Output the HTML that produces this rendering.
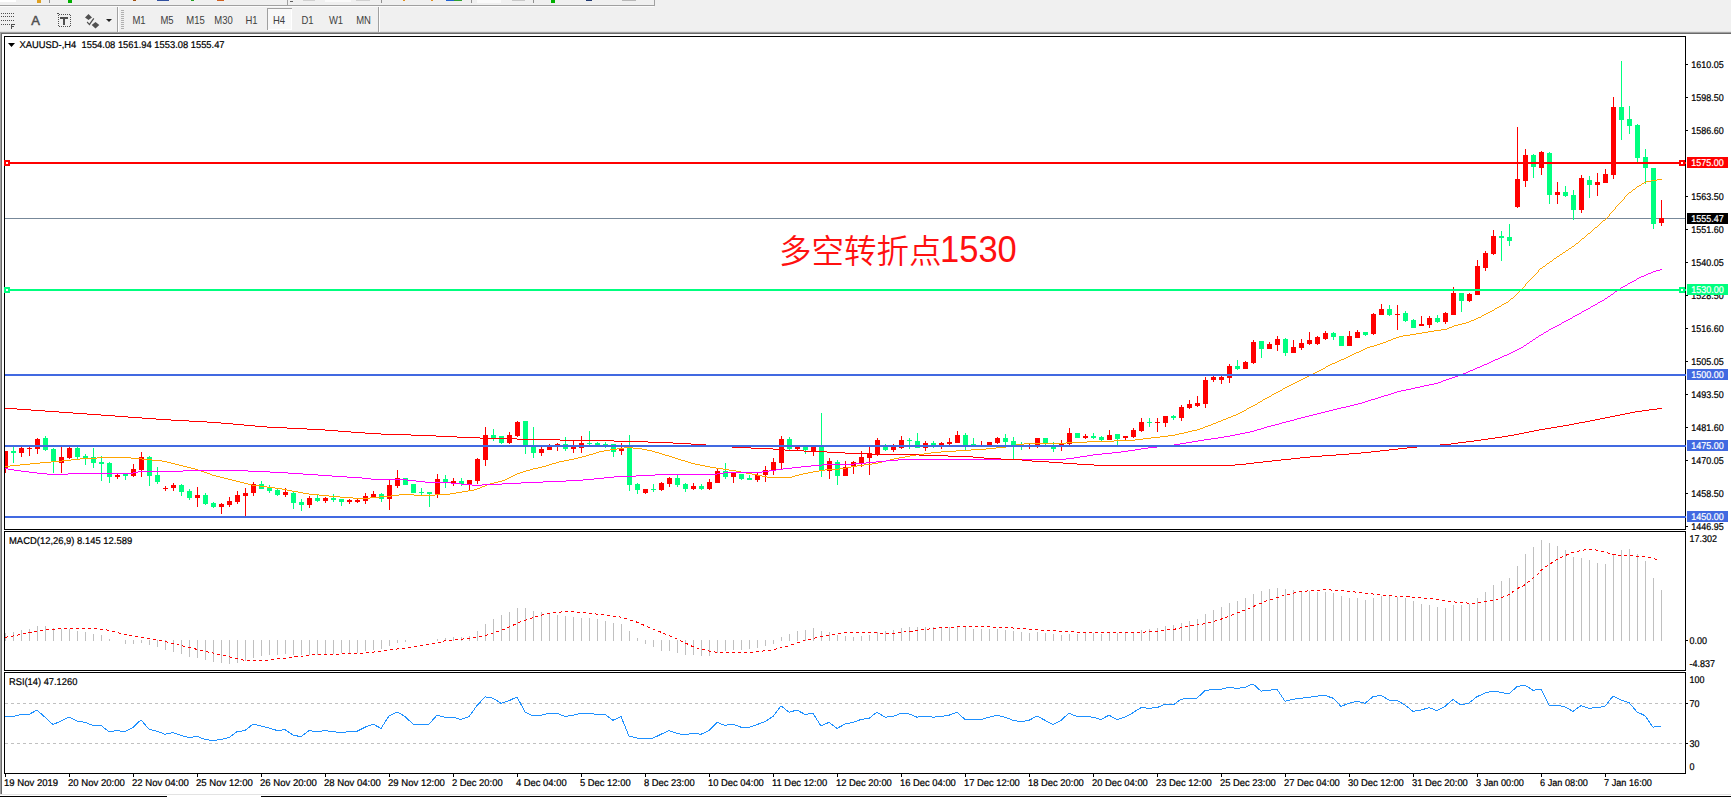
<!DOCTYPE html>
<html lang="zh"><head><meta charset="utf-8"><title>XAUUSD-,H4</title>
<style>
html,body{margin:0;padding:0;background:#fff}
body{width:1731px;height:797px;overflow:hidden;position:relative;font-family:"Liberation Sans","Noto Sans CJK SC",sans-serif}
svg{position:absolute;left:0;top:0;display:block}
#lb{position:absolute;left:0;top:32px;width:1px;height:762px;background:#a0a0a0}
#lb2{position:absolute;left:1px;top:33px;width:1px;height:761px;background:#696969}
#bl{position:absolute;left:0;top:794px;width:1731px;height:1px;background:#e3e3e3}
#bk1{position:absolute;left:0;top:796px;width:167px;height:1px;background:#000}
#bk2{position:absolute;left:261px;top:796px;width:1470px;height:1px;background:#000}
</style></head><body>
<svg id="chart" width="1731" height="797" viewBox="0 0 1731 797" shape-rendering="crispEdges"><defs><clipPath id="cpm"><rect x="5" y="37" width="1680" height="492"/></clipPath></defs><g clip-path="url(#cpm)"><rect x="5" y="218" width="1680" height="1" fill="#778899"/><path fill="#ff0000" d="M5 451h1v22h-1zM3 451h5v17h-5zM21 447h1v10h-1zM19 448h5v5h-5zM29 447h1v9h-1zM27 448h5v1h-5zM37 438h1v16h-1zM35 439h5v10h-5zM61 447h1v26h-1zM59 457h5v6h-5zM69 447h1v12h-1zM67 448h5v10h-5zM117 474h1v5h-1zM115 475h5v2h-5zM133 464h1v13h-1zM131 469h5v7h-5zM141 452h1v25h-1zM139 457h5v13h-5zM165 486h1v5h-1zM163 488h5v1h-5zM173 483h1v8h-1zM171 485h5v3h-5zM197 487h1v20h-1zM195 495h5v3h-5zM221 503h1v11h-1zM219 504h5v3h-5zM229 497h1v10h-1zM227 501h5v4h-5zM237 491h1v13h-1zM235 495h5v7h-5zM245 488h1v28h-1zM243 493h5v3h-5zM253 482h1v14h-1zM251 484h5v9h-5zM285 488h1v9h-1zM283 492h5v3h-5zM309 496h1v12h-1zM307 498h5v7h-5zM325 497h1v6h-1zM323 498h5v3h-5zM349 499h1v5h-1zM347 500h5v2h-5zM357 499h1v4h-1zM355 500h5v2h-5zM365 493h1v11h-1zM363 496h5v5h-5zM373 491h1v6h-1zM371 494h5v3h-5zM389 480h1v30h-1zM387 485h5v14h-5zM397 470h1v18h-1zM395 478h5v8h-5zM437 474h1v24h-1zM435 479h5v15h-5zM453 478h1v8h-1zM451 481h5v3h-5zM469 480h1v10h-1zM467 480h5v4h-5zM477 458h1v26h-1zM475 459h5v22h-5zM485 427h1v39h-1zM483 435h5v25h-5zM509 432h1v12h-1zM507 435h5v8h-5zM517 421h1v16h-1zM515 422h5v14h-5zM541 447h1v9h-1zM539 449h5v4h-5zM549 444h1v6h-1zM547 447h5v3h-5zM557 443h1v8h-1zM555 444h5v1h-5zM573 441h1v12h-1zM571 445h5v4h-5zM581 436h1v17h-1zM579 443h5v5h-5zM621 443h1v12h-1zM619 448h5v3h-5zM645 489h1v5h-1zM643 489h5v4h-5zM661 482h1v9h-1zM659 483h5v7h-5zM669 477h1v10h-1zM667 478h5v6h-5zM693 483h1v7h-1zM691 486h5v3h-5zM709 479h1v11h-1zM707 482h5v7h-5zM717 469h1v14h-1zM715 471h5v12h-5zM733 472h1v11h-1zM731 473h5v4h-5zM757 473h1v9h-1zM755 475h5v5h-5zM765 466h1v16h-1zM763 470h5v5h-5zM773 458h1v17h-1zM771 462h5v9h-5zM781 436h1v33h-1zM779 439h5v24h-5zM797 445h1v5h-1zM795 445h5v4h-5zM813 445h1v11h-1zM811 445h5v6h-5zM829 458h1v21h-1zM827 461h5v10h-5zM845 461h1v15h-1zM843 467h5v9h-5zM853 461h1v13h-1zM851 462h5v5h-5zM861 451h1v16h-1zM859 457h5v7h-5zM869 447h1v28h-1zM867 453h5v5h-5zM877 438h1v18h-1zM875 440h5v15h-5zM893 444h1v8h-1zM891 447h5v3h-5zM901 436h1v13h-1zM899 440h5v8h-5zM925 441h1v10h-1zM923 443h5v5h-5zM941 442h1v7h-1zM939 443h5v3h-5zM949 438h1v7h-1zM947 442h5v2h-5zM957 431h1v12h-1zM955 435h5v8h-5zM981 441h1v5h-1zM979 445h5v1h-5zM989 442h1v3h-1zM987 442h5v3h-5zM997 437h1v7h-1zM995 438h5v5h-5zM1029 443h1v6h-1zM1027 445h5v1h-5zM1037 438h1v10h-1zM1035 438h5v7h-5zM1061 440h1v11h-1zM1059 444h5v3h-5zM1069 428h1v17h-1zM1067 433h5v11h-5zM1085 434h1v5h-1zM1083 436h5v2h-5zM1109 430h1v10h-1zM1107 435h5v5h-5zM1125 436h1v4h-1zM1123 436h5v2h-5zM1133 428h1v10h-1zM1131 430h5v7h-5zM1141 418h1v14h-1zM1139 422h5v9h-5zM1157 418h1v14h-1zM1155 422h5v1h-5zM1165 416h1v11h-1zM1163 416h5v7h-5zM1181 405h1v16h-1zM1179 407h5v11h-5zM1189 400h1v9h-1zM1187 404h5v4h-5zM1197 396h1v11h-1zM1195 403h5v3h-5zM1205 377h1v31h-1zM1203 380h5v24h-5zM1213 376h1v6h-1zM1211 377h5v3h-5zM1221 376h1v8h-1zM1219 377h5v3h-5zM1229 364h1v19h-1zM1227 366h5v12h-5zM1245 361h1v8h-1zM1243 362h5v7h-5zM1253 340h1v24h-1zM1251 342h5v21h-5zM1269 342h1v7h-1zM1267 344h5v5h-5zM1277 336h1v15h-1zM1275 339h5v6h-5zM1293 340h1v13h-1zM1291 347h5v6h-5zM1301 339h1v11h-1zM1299 343h5v5h-5zM1309 332h1v13h-1zM1307 340h5v4h-5zM1317 336h1v9h-1zM1315 337h5v7h-5zM1325 331h1v9h-1zM1323 333h5v6h-5zM1349 331h1v15h-1zM1347 336h5v10h-5zM1357 330h1v8h-1zM1355 332h5v6h-5zM1373 313h1v22h-1zM1371 314h5v20h-5zM1381 304h1v11h-1zM1379 309h5v6h-5zM1397 305h1v25h-1zM1395 314h5v1h-5zM1421 316h1v10h-1zM1419 324h5v2h-5zM1429 316h1v12h-1zM1427 318h5v7h-5zM1445 312h1v12h-1zM1443 313h5v9h-5zM1453 287h1v28h-1zM1451 293h5v22h-5zM1469 293h1v9h-1zM1467 294h5v7h-5zM1477 260h1v35h-1zM1475 266h5v29h-5zM1485 251h1v20h-1zM1483 253h5v15h-5zM1493 230h1v25h-1zM1491 236h5v18h-5zM1517 127h1v81h-1zM1515 179h5v28h-5zM1525 149h1v38h-1zM1523 155h5v26h-5zM1541 151h1v24h-1zM1539 152h5v16h-5zM1557 182h1v22h-1zM1555 192h5v3h-5zM1581 175h1v38h-1zM1579 178h5v32h-5zM1597 173h1v23h-1zM1595 182h5v3h-5zM1605 169h1v14h-1zM1603 174h5v9h-5zM1613 97h1v82h-1zM1611 107h5v68h-5zM1661 200h1v26h-1zM1659 218h5v5h-5z"/><path fill="#00ff7f" d="M13 447h1v16h-1zM11 451h5v2h-5zM45 436h1v15h-1zM43 438h5v12h-5zM53 448h1v25h-1zM51 449h5v13h-5zM77 447h1v12h-1zM75 448h5v9h-5zM85 454h1v11h-1zM83 456h5v2h-5zM93 448h1v20h-1zM91 457h5v6h-5zM101 456h1v25h-1zM99 462h5v2h-5zM109 462h1v21h-1zM107 463h5v14h-5zM125 473h1v7h-1zM123 474h5v2h-5zM149 456h1v30h-1zM147 457h5v19h-5zM157 467h1v17h-1zM155 475h5v7h-5zM181 484h1v12h-1zM179 485h5v7h-5zM189 489h1v11h-1zM187 491h5v7h-5zM205 493h1v12h-1zM203 495h5v9h-5zM213 502h1v6h-1zM211 503h5v4h-5zM261 481h1v8h-1zM259 484h5v5h-5zM269 485h1v8h-1zM267 487h5v4h-5zM277 489h1v7h-1zM275 490h5v5h-5zM293 492h1v17h-1zM291 493h5v10h-5zM301 499h1v12h-1zM299 502h5v3h-5zM317 494h1v8h-1zM315 498h5v3h-5zM333 494h1v8h-1zM331 498h5v2h-5zM341 499h1v7h-1zM339 499h5v3h-5zM381 493h1v9h-1zM379 494h5v5h-5zM405 478h1v7h-1zM403 478h5v7h-5zM413 484h1v9h-1zM411 484h5v9h-5zM421 488h1v7h-1zM419 492h5v1h-5zM429 492h1v15h-1zM427 492h5v2h-5zM445 475h1v13h-1zM443 479h5v3h-5zM461 478h1v8h-1zM459 481h5v3h-5zM493 429h1v12h-1zM491 435h5v3h-5zM501 436h1v8h-1zM499 436h5v7h-5zM525 421h1v33h-1zM523 421h5v25h-5zM533 427h1v31h-1zM531 447h5v6h-5zM565 437h1v14h-1zM563 444h5v5h-5zM589 431h1v14h-1zM587 443h5v1h-5zM597 442h1v4h-1zM595 443h5v2h-5zM605 442h1v6h-1zM603 444h5v1h-5zM613 444h1v13h-1zM611 444h5v8h-5zM629 435h1v56h-1zM627 448h5v37h-5zM637 483h1v11h-1zM635 484h5v6h-5zM653 484h1v8h-1zM651 489h5v1h-5zM677 475h1v12h-1zM675 478h5v7h-5zM685 483h1v9h-1zM683 484h5v5h-5zM701 484h1v6h-1zM699 486h5v3h-5zM725 463h1v16h-1zM723 471h5v6h-5zM741 474h1v6h-1zM739 474h5v5h-5zM749 475h1v5h-1zM747 478h5v2h-5zM789 437h1v13h-1zM787 439h5v10h-5zM805 445h1v9h-1zM803 445h5v5h-5zM821 413h1v64h-1zM819 447h5v23h-5zM837 460h1v25h-1zM835 462h5v14h-5zM885 444h1v7h-1zM883 447h5v3h-5zM909 438h1v11h-1zM907 440h5v1h-5zM917 433h1v15h-1zM915 441h5v7h-5zM933 441h1v7h-1zM931 443h5v3h-5zM965 433h1v17h-1zM963 435h5v10h-5zM973 438h1v7h-1zM971 444h5v1h-5zM1005 434h1v14h-1zM1003 438h5v4h-5zM1013 437h1v22h-1zM1011 441h5v4h-5zM1021 442h1v8h-1zM1019 445h5v1h-5zM1045 438h1v7h-1zM1043 438h5v5h-5zM1053 442h1v10h-1zM1051 445h5v4h-5zM1077 433h1v5h-1zM1075 433h5v5h-5zM1093 433h1v6h-1zM1091 436h5v2h-5zM1101 436h1v5h-1zM1099 437h5v3h-5zM1117 434h1v11h-1zM1115 434h5v5h-5zM1149 418h1v9h-1zM1147 422h5v1h-5zM1173 415h1v5h-1zM1171 416h5v2h-5zM1237 360h1v10h-1zM1235 366h5v3h-5zM1261 341h1v17h-1zM1259 341h5v8h-5zM1285 338h1v18h-1zM1283 339h5v14h-5zM1333 332h1v8h-1zM1331 333h5v4h-5zM1341 336h1v10h-1zM1339 336h5v10h-5zM1365 332h1v4h-1zM1363 332h5v3h-5zM1389 305h1v11h-1zM1387 309h5v6h-5zM1405 311h1v11h-1zM1403 313h5v8h-5zM1413 319h1v9h-1zM1411 320h5v8h-5zM1437 315h1v8h-1zM1435 318h5v4h-5zM1461 293h1v19h-1zM1459 293h5v8h-5zM1501 231h1v30h-1zM1499 236h5v2h-5zM1509 224h1v22h-1zM1507 237h5v4h-5zM1533 154h1v24h-1zM1531 155h5v12h-5zM1549 152h1v52h-1zM1547 153h5v42h-5zM1565 186h1v11h-1zM1563 192h5v4h-5zM1573 190h1v30h-1zM1571 195h5v15h-5zM1589 176h1v22h-1zM1587 180h5v5h-5zM1621 61h1v79h-1zM1619 107h5v13h-5zM1629 106h1v28h-1zM1627 119h5v7h-5zM1637 124h1v38h-1zM1635 125h5v33h-5zM1645 149h1v35h-1zM1643 157h5v11h-5zM1653 168h1v61h-1zM1651 168h5v56h-5z"/><path fill="#ffa500" d="M5 466h5v1h-5zM10 465h10v1h-10zM20 464h10v1h-10zM30 463h10v1h-10zM40 462h11v1h-11zM51 461h11v1h-11zM62 460h9v1h-9zM71 459h9v1h-9zM80 458h17v1h-17zM97 457h34v1h-34zM131 458h11v1h-11zM142 459h10v1h-10zM152 460h10v1h-10zM162 461h5v1h-5zM167 462h4v1h-4zM171 463h4v1h-4zM175 464h4v1h-4zM179 465h4v1h-4zM183 466h4v1h-4zM187 467h4v1h-4zM191 468h4v1h-4zM195 469h3v1h-3zM198 470h3v1h-3zM201 471h3v1h-3zM204 472h3v1h-3zM207 473h3v1h-3zM210 474h2v1h-2zM212 475h4v1h-4zM216 476h4v1h-4zM220 477h4v1h-4zM224 478h4v1h-4zM228 479h4v1h-4zM232 480h4v1h-4zM236 481h4v1h-4zM240 482h4v1h-4zM244 483h4v1h-4zM248 484h4v1h-4zM252 485h8v1h-8zM260 486h7v1h-7zM267 487h8v1h-8zM275 488h7v1h-7zM282 489h5v1h-5zM287 490h5v1h-5zM292 491h6v1h-6zM298 492h5v1h-5zM303 493h6v1h-6zM309 494h10v1h-10zM319 495h10v1h-10zM329 496h11v1h-11zM340 497h13v1h-13zM353 498h17v1h-17zM370 497h10v1h-10zM380 496h11v1h-11zM391 495h8v1h-8zM399 494h15v1h-15zM414 495h21v1h-21zM435 494h15v1h-15zM450 493h6v1h-6zM456 492h6v1h-6zM462 491h6v1h-6zM468 490h6v1h-6zM474 489h3v1h-3zM477 488h3v1h-3zM480 487h2v1h-2zM482 486h3v1h-3zM485 485h2v1h-2zM487 484h3v1h-3zM490 483h4v1h-4zM494 482h4v1h-4zM498 481h4v1h-4zM502 480h3v1h-3zM505 479h2v1h-2zM507 478h2v1h-2zM509 477h2v1h-2zM511 476h2v1h-2zM513 475h2v1h-2zM515 474h2v1h-2zM517 473h3v1h-3zM520 472h3v1h-3zM523 471h3v1h-3zM526 470h4v1h-4zM530 469h3v1h-3zM533 468h5v1h-5zM538 467h4v1h-4zM542 466h4v1h-4zM546 465h3v1h-3zM549 464h3v1h-3zM552 463h4v1h-4zM556 462h3v1h-3zM559 461h5v1h-5zM564 460h5v1h-5zM569 459h5v1h-5zM574 458h4v1h-4zM578 457h4v1h-4zM582 456h4v1h-4zM586 455h3v1h-3zM589 454h4v1h-4zM593 453h3v1h-3zM596 452h3v1h-3zM599 451h5v1h-5zM604 450h6v1h-6zM610 449h7v1h-7zM617 448h7v1h-7zM624 447h9v1h-9zM633 448h9v1h-9zM642 449h5v1h-5zM647 450h5v1h-5zM652 451h3v1h-3zM655 452h4v1h-4zM659 453h3v1h-3zM662 454h3v1h-3zM665 455h4v1h-4zM669 456h3v1h-3zM672 457h3v1h-3zM675 458h3v1h-3zM678 459h3v1h-3zM681 460h4v1h-4zM685 461h3v1h-3zM688 462h3v1h-3zM691 463h4v1h-4zM695 464h5v1h-5zM700 465h5v1h-5zM705 466h5v1h-5zM710 467h6v1h-6zM716 468h7v1h-7zM723 469h6v1h-6zM729 470h7v1h-7zM736 471h5v1h-5zM741 472h5v1h-5zM746 473h6v1h-6zM752 474h5v1h-5zM757 475h5v1h-5zM762 476h5v1h-5zM767 477h25v1h-25zM792 476h3v1h-3zM795 475h4v1h-4zM799 474h4v1h-4zM803 473h5v1h-5zM808 472h5v1h-5zM813 471h6v1h-6zM819 470h6v1h-6zM825 469h14v1h-14zM839 468h7v1h-7zM846 467h5v1h-5zM851 466h6v1h-6zM857 465h7v1h-7zM864 464h8v1h-8zM872 463h6v1h-6zM878 462h4v1h-4zM882 461h4v1h-4zM886 460h4v1h-4zM890 459h4v1h-4zM894 458h5v1h-5zM899 457h6v1h-6zM905 456h5v1h-5zM910 455h6v1h-6zM916 454h8v1h-8zM924 453h7v1h-7zM931 452h10v1h-10zM941 451h15v1h-15zM956 450h15v1h-15zM971 449h15v1h-15zM986 448h10v1h-10zM996 447h10v1h-10zM1006 446h5v1h-5zM1011 445h5v1h-5zM1016 444h8v1h-8zM1024 443h42v1h-42zM1066 442h21v1h-21zM1087 441h27v1h-27zM1114 440h21v1h-21zM1135 439h8v1h-8zM1143 438h8v1h-8zM1151 437h9v1h-9zM1160 436h8v1h-8zM1168 435h7v1h-7zM1175 434h4v1h-4zM1179 433h5v1h-5zM1184 432h4v1h-4zM1188 431h4v1h-4zM1192 430h5v1h-5zM1197 429h3v1h-3zM1200 428h3v1h-3zM1203 427h2v1h-2zM1205 426h3v1h-3zM1208 425h3v1h-3zM1211 424h2v1h-2zM1213 423h3v1h-3zM1216 422h2v1h-2zM1218 421h3v1h-3zM1221 420h2v1h-2zM1223 419h3v1h-3zM1226 418h2v1h-2zM1228 417h3v1h-3zM1231 416h2v1h-2zM1233 415h3v1h-3zM1236 414h2v1h-2zM1238 413h2v1h-2zM1240 412h2v1h-2zM1242 411h2v1h-2zM1244 410h2v1h-2zM1246 409h1v1h-1zM1247 408h2v1h-2zM1249 407h2v1h-2zM1251 406h2v1h-2zM1253 405h2v1h-2zM1255 404h2v1h-2zM1257 403h1v1h-1zM1258 402h2v1h-2zM1260 401h2v1h-2zM1262 400h1v1h-1zM1263 399h2v1h-2zM1265 398h2v1h-2zM1267 397h2v1h-2zM1269 396h2v1h-2zM1271 395h1v1h-1zM1272 394h2v1h-2zM1274 393h2v1h-2zM1276 392h2v1h-2zM1278 391h2v1h-2zM1280 390h2v1h-2zM1282 389h1v1h-1zM1283 388h2v1h-2zM1285 387h2v1h-2zM1287 386h2v1h-2zM1289 385h2v1h-2zM1291 384h2v1h-2zM1293 383h2v1h-2zM1295 382h2v1h-2zM1297 381h2v1h-2zM1299 380h2v1h-2zM1301 379h2v1h-2zM1303 378h2v1h-2zM1305 377h2v1h-2zM1307 376h2v1h-2zM1309 375h2v1h-2zM1311 374h2v1h-2zM1313 373h2v1h-2zM1315 372h2v1h-2zM1317 371h2v1h-2zM1319 370h2v1h-2zM1321 369h2v1h-2zM1323 368h2v1h-2zM1325 367h1v1h-1zM1326 366h2v1h-2zM1328 365h2v1h-2zM1330 364h2v1h-2zM1332 363h3v1h-3zM1335 362h2v1h-2zM1337 361h2v1h-2zM1339 360h2v1h-2zM1341 359h3v1h-3zM1344 358h2v1h-2zM1346 357h2v1h-2zM1348 356h2v1h-2zM1350 355h2v1h-2zM1352 354h2v1h-2zM1354 353h2v1h-2zM1356 352h3v1h-3zM1359 351h2v1h-2zM1361 350h2v1h-2zM1363 349h2v1h-2zM1365 348h2v1h-2zM1367 347h3v1h-3zM1370 346h4v1h-4zM1374 345h3v1h-3zM1377 344h3v1h-3zM1380 343h3v1h-3zM1383 342h3v1h-3zM1386 341h2v1h-2zM1388 340h3v1h-3zM1391 339h2v1h-2zM1393 338h3v1h-3zM1396 337h3v1h-3zM1399 336h4v1h-4zM1403 335h7v1h-7zM1410 334h6v1h-6zM1416 333h6v1h-6zM1422 332h6v1h-6zM1428 331h6v1h-6zM1434 330h7v1h-7zM1441 329h6v1h-6zM1447 328h2v1h-2zM1449 327h3v1h-3zM1452 326h2v1h-2zM1454 325h4v1h-4zM1458 324h4v1h-4zM1462 323h4v1h-4zM1466 322h3v1h-3zM1469 321h2v1h-2zM1471 320h3v1h-3zM1474 319h2v1h-2zM1476 318h2v1h-2zM1478 317h3v1h-3zM1481 316h1v1h-1zM1482 315h2v1h-2zM1484 314h2v1h-2zM1486 313h2v1h-2zM1488 312h2v1h-2zM1490 311h2v1h-2zM1492 310h2v1h-2zM1494 309h1v1h-1zM1495 308h2v1h-2zM1497 307h2v1h-2zM1499 306h2v1h-2zM1501 305h1v1h-1zM1502 304h2v1h-2zM1504 303h2v1h-2zM1506 302h2v1h-2zM1508 301h1v1h-1zM1509 300h1v1h-1zM1510 299h1v1h-1zM1511 298h2v1h-2zM1513 297h1v1h-1zM1514 296h1v1h-1zM1515 295h1v1h-1zM1516 294h1v1h-1zM1517 293h1v1h-1zM1518 292h1v1h-1zM1519 291h1v1h-1zM1520 290h1v1h-1zM1521 289h1v1h-1zM1522 288h1v1h-1zM1523 287h1v1h-1zM1524 286h1v1h-1zM1525 285h1v1h-1zM1525 284h1v1h-1zM1526 283h1v1h-1zM1527 282h1v1h-1zM1528 281h1v1h-1zM1529 280h1v1h-1zM1530 279h1v1h-1zM1531 278h1v1h-1zM1532 277h1v1h-1zM1533 276h1v1h-1zM1534 275h1v1h-1zM1535 274h1v1h-1zM1536 273h1v1h-1zM1537 272h1v1h-1zM1538 271h1v1h-1zM1538 270h1v1h-1zM1539 269h1v1h-1zM1540 268h2v1h-2zM1542 267h1v1h-1zM1543 266h2v1h-2zM1545 265h1v1h-1zM1546 264h1v1h-1zM1547 263h2v1h-2zM1549 262h1v1h-1zM1550 261h2v1h-2zM1552 260h1v1h-1zM1553 259h1v1h-1zM1554 258h2v1h-2zM1556 257h1v1h-1zM1557 256h2v1h-2zM1559 255h1v1h-1zM1560 254h2v1h-2zM1562 253h1v1h-1zM1563 252h2v1h-2zM1565 251h1v1h-1zM1566 250h2v1h-2zM1568 249h1v1h-1zM1569 248h2v1h-2zM1571 247h1v1h-1zM1572 246h2v1h-2zM1574 245h1v1h-1zM1575 244h1v1h-1zM1576 243h2v1h-2zM1578 242h1v1h-1zM1579 241h1v1h-1zM1580 240h1v1h-1zM1581 239h1v1h-1zM1582 238h2v1h-2zM1584 237h1v1h-1zM1585 236h1v1h-1zM1586 235h1v1h-1zM1587 234h1v1h-1zM1588 233h2v1h-2zM1590 232h1v1h-1zM1591 231h1v1h-1zM1592 230h1v1h-1zM1593 229h1v1h-1zM1594 228h1v1h-1zM1595 227h2v1h-2zM1597 226h1v1h-1zM1598 225h1v1h-1zM1599 224h1v1h-1zM1600 223h1v1h-1zM1601 222h1v1h-1zM1602 221h1v1h-1zM1603 220h2v1h-2zM1605 219h1v1h-1zM1606 218h1v1h-1zM1607 217h1v1h-1zM1608 216h1v1h-1zM1609 215h1v1h-1zM1609 214h1v1h-1zM1610 213h1v1h-1zM1611 212h1v1h-1zM1612 211h1v1h-1zM1613 210h1v1h-1zM1614 209h1v1h-1zM1615 208h1v1h-1zM1615 207h1v1h-1zM1616 206h1v1h-1zM1617 205h1v1h-1zM1618 204h1v1h-1zM1619 203h1v1h-1zM1620 202h1v1h-1zM1621 201h1v1h-1zM1622 200h1v1h-1zM1623 199h1v1h-1zM1624 198h1v1h-1zM1624 197h1v1h-1zM1625 196h1v1h-1zM1626 195h1v1h-1zM1627 194h1v1h-1zM1628 193h1v1h-1zM1629 192h2v1h-2zM1631 191h1v1h-1zM1632 190h1v1h-1zM1633 189h2v1h-2zM1635 188h1v1h-1zM1636 187h1v1h-1zM1637 186h2v1h-2zM1639 185h2v1h-2zM1641 184h1v1h-1zM1642 183h2v1h-2zM1644 182h2v1h-2zM1646 181h5v1h-5zM1651 180h6v1h-6zM1657 179h5v1h-5z"/><path fill="#ff00ff" d="M5 468h3v1h-3zM8 469h6v1h-6zM14 470h7v1h-7zM21 471h8v1h-8zM29 472h8v1h-8zM37 473h10v1h-10zM47 474h21v1h-21zM68 473h65v1h-65zM133 472h5v1h-5zM138 471h45v1h-45zM183 470h65v1h-65zM248 471h22v1h-22zM270 472h18v1h-18zM288 473h15v1h-15zM303 474h15v1h-15zM318 475h14v1h-14zM332 476h15v1h-15zM347 477h15v1h-15zM362 478h9v1h-9zM371 479h36v1h-36zM407 480h9v1h-9zM416 481h9v1h-9zM425 482h26v1h-26zM451 483h10v1h-10zM461 484h11v1h-11zM472 485h10v1h-10zM482 484h20v1h-20zM502 483h19v1h-19zM521 482h22v1h-22zM543 481h23v1h-23zM566 480h17v1h-17zM583 479h11v1h-11zM594 478h10v1h-10zM604 477h10v1h-10zM614 476h22v1h-22zM636 475h19v1h-19zM655 474h62v1h-62zM717 473h7v1h-7zM724 472h38v1h-38zM762 471h7v1h-7zM769 470h7v1h-7zM776 469h7v1h-7zM783 468h9v1h-9zM792 467h9v1h-9zM801 466h10v1h-10zM811 465h11v1h-11zM822 464h32v1h-32zM854 463h12v1h-12zM866 462h10v1h-10zM876 461h10v1h-10zM886 460h12v1h-12zM898 459h168v1h-168zM1066 458h8v1h-8zM1074 457h6v1h-6zM1080 456h7v1h-7zM1087 455h6v1h-6zM1093 454h9v1h-9zM1102 453h10v1h-10zM1112 452h9v1h-9zM1121 451h7v1h-7zM1128 450h7v1h-7zM1135 449h6v1h-6zM1141 448h7v1h-7zM1148 447h9v1h-9zM1157 446h9v1h-9zM1166 445h8v1h-8zM1174 444h6v1h-6zM1180 443h6v1h-6zM1186 442h6v1h-6zM1192 441h6v1h-6zM1198 440h6v1h-6zM1204 439h7v1h-7zM1211 438h7v1h-7zM1218 437h6v1h-6zM1224 436h6v1h-6zM1230 435h5v1h-5zM1235 434h5v1h-5zM1240 433h5v1h-5zM1245 432h5v1h-5zM1250 431h4v1h-4zM1254 430h3v1h-3zM1257 429h4v1h-4zM1261 428h3v1h-3zM1264 427h3v1h-3zM1267 426h4v1h-4zM1271 425h4v1h-4zM1275 424h4v1h-4zM1279 423h3v1h-3zM1282 422h4v1h-4zM1286 421h4v1h-4zM1290 420h4v1h-4zM1294 419h3v1h-3zM1297 418h4v1h-4zM1301 417h4v1h-4zM1305 416h4v1h-4zM1309 415h4v1h-4zM1313 414h4v1h-4zM1317 413h4v1h-4zM1321 412h4v1h-4zM1325 411h4v1h-4zM1329 410h4v1h-4zM1333 409h4v1h-4zM1337 408h4v1h-4zM1341 407h5v1h-5zM1346 406h4v1h-4zM1350 405h4v1h-4zM1354 404h4v1h-4zM1358 403h4v1h-4zM1362 402h3v1h-3zM1365 401h3v1h-3zM1368 400h3v1h-3zM1371 399h4v1h-4zM1375 398h3v1h-3zM1378 397h3v1h-3zM1381 396h3v1h-3zM1384 395h4v1h-4zM1388 394h3v1h-3zM1391 393h3v1h-3zM1394 392h3v1h-3zM1397 391h4v1h-4zM1401 390h5v1h-5zM1406 389h5v1h-5zM1411 388h4v1h-4zM1415 387h5v1h-5zM1420 386h4v1h-4zM1424 385h5v1h-5zM1429 384h5v1h-5zM1434 383h4v1h-4zM1438 382h3v1h-3zM1441 381h2v1h-2zM1443 380h3v1h-3zM1446 379h3v1h-3zM1449 378h3v1h-3zM1452 377h3v1h-3zM1455 376h3v1h-3zM1458 375h3v1h-3zM1461 374h2v1h-2zM1463 373h3v1h-3zM1466 372h2v1h-2zM1468 371h2v1h-2zM1470 370h3v1h-3zM1473 369h2v1h-2zM1475 368h2v1h-2zM1477 367h3v1h-3zM1480 366h2v1h-2zM1482 365h2v1h-2zM1484 364h3v1h-3zM1487 363h2v1h-2zM1489 362h2v1h-2zM1491 361h2v1h-2zM1493 360h2v1h-2zM1495 359h3v1h-3zM1498 358h2v1h-2zM1500 357h2v1h-2zM1502 356h2v1h-2zM1504 355h3v1h-3zM1507 354h2v1h-2zM1509 353h2v1h-2zM1511 352h2v1h-2zM1513 351h2v1h-2zM1515 350h2v1h-2zM1517 349h2v1h-2zM1519 348h2v1h-2zM1521 347h2v1h-2zM1523 346h1v1h-1zM1524 345h2v1h-2zM1526 344h1v1h-1zM1527 343h2v1h-2zM1529 342h1v1h-1zM1530 341h2v1h-2zM1532 340h1v1h-1zM1533 339h2v1h-2zM1535 338h1v1h-1zM1536 337h2v1h-2zM1538 336h1v1h-1zM1539 335h2v1h-2zM1541 334h2v1h-2zM1543 333h1v1h-1zM1544 332h2v1h-2zM1546 331h2v1h-2zM1548 330h1v1h-1zM1549 329h2v1h-2zM1551 328h2v1h-2zM1553 327h2v1h-2zM1555 326h2v1h-2zM1557 325h2v1h-2zM1559 324h2v1h-2zM1561 323h1v1h-1zM1562 322h2v1h-2zM1564 321h2v1h-2zM1566 320h2v1h-2zM1568 319h2v1h-2zM1570 318h2v1h-2zM1572 317h1v1h-1zM1573 316h2v1h-2zM1575 315h2v1h-2zM1577 314h2v1h-2zM1579 313h2v1h-2zM1581 312h1v1h-1zM1582 311h2v1h-2zM1584 310h2v1h-2zM1586 309h2v1h-2zM1588 308h2v1h-2zM1590 307h1v1h-1zM1591 306h2v1h-2zM1593 305h2v1h-2zM1595 304h2v1h-2zM1597 303h1v1h-1zM1598 302h2v1h-2zM1600 301h2v1h-2zM1602 300h2v1h-2zM1604 299h1v1h-1zM1605 298h2v1h-2zM1607 297h1v1h-1zM1608 296h2v1h-2zM1610 295h1v1h-1zM1611 294h2v1h-2zM1613 293h1v1h-1zM1614 292h1v1h-1zM1615 291h2v1h-2zM1617 290h1v1h-1zM1618 289h2v1h-2zM1620 288h1v1h-1zM1621 287h2v1h-2zM1623 286h2v1h-2zM1625 285h2v1h-2zM1627 284h1v1h-1zM1628 283h2v1h-2zM1630 282h2v1h-2zM1632 281h2v1h-2zM1634 280h2v1h-2zM1636 279h1v1h-1zM1637 278h2v1h-2zM1639 277h2v1h-2zM1641 276h3v1h-3zM1644 275h2v1h-2zM1646 274h2v1h-2zM1648 273h3v1h-3zM1651 272h2v1h-2zM1653 271h3v1h-3zM1656 270h4v1h-4zM1660 269h2v1h-2z"/><path fill="#ff0000" d="M5 408h12v1h-12zM17 409h14v1h-14zM31 410h14v1h-14zM45 411h14v1h-14zM59 412h14v1h-14zM73 413h14v1h-14zM87 414h14v1h-14zM101 415h14v1h-14zM115 416h13v1h-13zM128 417h14v1h-14zM142 418h14v1h-14zM156 419h15v1h-15zM171 420h18v1h-18zM189 421h18v1h-18zM207 422h14v1h-14zM221 423h12v1h-12zM233 424h11v1h-11zM244 425h11v1h-11zM255 426h12v1h-12zM267 427h20v1h-20zM287 428h20v1h-20zM307 429h18v1h-18zM325 430h13v1h-13zM338 431h13v1h-13zM351 432h14v1h-14zM365 433h16v1h-16zM381 434h30v1h-30zM411 435h25v1h-25zM436 436h21v1h-21zM457 437h23v1h-23zM480 438h37v1h-37zM517 439h43v1h-43zM560 440h54v1h-54zM614 441h34v1h-34zM648 442h25v1h-25zM673 443h18v1h-18zM691 444h15v1h-15zM706 445h13v1h-13zM719 446h13v1h-13zM732 447h19v1h-19zM751 448h22v1h-22zM773 449h12v1h-12zM785 450h19v1h-19zM804 451h23v1h-23zM827 452h18v1h-18zM845 453h25v1h-25zM870 454h49v1h-49zM919 455h29v1h-29zM948 456h25v1h-25zM973 457h11v1h-11zM984 458h17v1h-17zM1001 459h21v1h-21zM1022 460h10v1h-10zM1032 461h17v1h-17zM1049 462h14v1h-14zM1063 463h14v1h-14zM1077 464h17v1h-17zM1094 465h141v1h-141zM1235 464h11v1h-11zM1246 463h8v1h-8zM1254 462h9v1h-9zM1263 461h9v1h-9zM1272 460h9v1h-9zM1281 459h10v1h-10zM1291 458h9v1h-9zM1300 457h10v1h-10zM1310 456h12v1h-12zM1322 455h14v1h-14zM1336 454h13v1h-13zM1349 453h12v1h-12zM1361 452h10v1h-10zM1371 451h9v1h-9zM1380 450h9v1h-9zM1389 449h9v1h-9zM1398 448h9v1h-9zM1407 447h10v1h-10zM1417 446h12v1h-12zM1429 445h11v1h-11zM1440 444h11v1h-11zM1451 443h7v1h-7zM1458 442h8v1h-8zM1466 441h8v1h-8zM1474 440h7v1h-7zM1481 439h7v1h-7zM1488 438h7v1h-7zM1495 437h7v1h-7zM1502 436h6v1h-6zM1508 435h6v1h-6zM1514 434h5v1h-5zM1519 433h5v1h-5zM1524 432h5v1h-5zM1529 431h5v1h-5zM1534 430h5v1h-5zM1539 429h6v1h-6zM1545 428h6v1h-6zM1551 427h6v1h-6zM1557 426h6v1h-6zM1563 425h6v1h-6zM1569 424h5v1h-5zM1574 423h5v1h-5zM1579 422h6v1h-6zM1585 421h5v1h-5zM1590 420h5v1h-5zM1595 419h5v1h-5zM1600 418h5v1h-5zM1605 417h5v1h-5zM1610 416h5v1h-5zM1615 415h5v1h-5zM1620 414h5v1h-5zM1625 413h5v1h-5zM1630 412h5v1h-5zM1635 411h7v1h-7zM1642 410h7v1h-7zM1649 409h8v1h-8zM1657 408h5v1h-5z"/></g><rect x="4" y="36" width="1682" height="1" fill="#000"/><rect x="4" y="529" width="1682" height="1" fill="#000"/><rect x="4" y="36" width="1" height="494" fill="#000"/><rect x="1685" y="36" width="1" height="494" fill="#000"/><rect x="4" y="531" width="1682" height="1" fill="#000"/><rect x="4" y="670" width="1682" height="1" fill="#000"/><rect x="4" y="531" width="1" height="140" fill="#000"/><rect x="1685" y="531" width="1" height="140" fill="#000"/><rect x="4" y="672" width="1682" height="1" fill="#000"/><rect x="4" y="773" width="1682" height="1" fill="#000"/><rect x="4" y="672" width="1" height="102" fill="#000"/><rect x="1685" y="672" width="1" height="102" fill="#000"/><rect x="5" y="162" width="1681" height="2" fill="#ff0000"/><rect x="5" y="289" width="1681" height="2" fill="#00ff7f"/><rect x="5" y="374" width="1681" height="2" fill="#4169e1"/><rect x="5" y="445" width="1681" height="2" fill="#4169e1"/><rect x="5" y="516" width="1681" height="2" fill="#4169e1"/><path fill="#ff0000" fill-rule="evenodd" d="M4 160h6v6h-6zM6 162h2v2h-2z"/><rect x="6" y="162" width="2" height="2" fill="#fff"/><path fill="#ff0000" fill-rule="evenodd" d="M1679 160h6v6h-6zM1681 162h2v2h-2z"/><rect x="1681" y="162" width="2" height="2" fill="#fff"/><path fill="#00ff7f" fill-rule="evenodd" d="M4 287h6v6h-6zM6 289h2v2h-2z"/><rect x="6" y="289" width="2" height="2" fill="#fff"/><path fill="#00ff7f" fill-rule="evenodd" d="M1679 287h6v6h-6zM1681 289h2v2h-2z"/><rect x="1681" y="289" width="2" height="2" fill="#fff"/><path fill="#c0c0c0" d="M5 633h1v8h-1zM13 632h1v9h-1zM21 630h1v11h-1zM29 629h1v12h-1zM37 626h1v15h-1zM45 626h1v15h-1zM53 628h1v13h-1zM61 629h1v12h-1zM69 629h1v12h-1zM77 631h1v10h-1zM85 632h1v9h-1zM93 634h1v7h-1zM101 635h1v6h-1zM109 639h1v2h-1zM125 640h1v4h-1zM133 640h1v4h-1zM141 640h1v3h-1zM149 640h1v5h-1zM157 640h1v7h-1zM165 640h1v10h-1zM173 640h1v12h-1zM181 640h1v14h-1zM189 640h1v17h-1zM197 640h1v18h-1zM205 640h1v20h-1zM213 640h1v22h-1zM221 640h1v23h-1zM229 640h1v24h-1zM237 640h1v23h-1zM245 640h1v21h-1zM253 640h1v18h-1zM261 640h1v16h-1zM269 640h1v15h-1zM277 640h1v15h-1zM285 640h1v14h-1zM293 640h1v15h-1zM301 640h1v15h-1zM309 640h1v15h-1zM317 640h1v15h-1zM325 640h1v15h-1zM333 640h1v14h-1zM341 640h1v13h-1zM349 640h1v13h-1zM357 640h1v13h-1zM365 640h1v11h-1zM373 640h1v10h-1zM381 640h1v9h-1zM389 640h1v6h-1zM397 640h1v3h-1zM405 640h1v2h-1zM437 639h1v2h-1zM445 638h1v3h-1zM453 637h1v4h-1zM461 637h1v4h-1zM469 636h1v5h-1zM477 631h1v10h-1zM485 624h1v17h-1zM493 619h1v22h-1zM501 615h1v26h-1zM509 612h1v29h-1zM517 608h1v33h-1zM525 608h1v33h-1zM533 611h1v30h-1zM541 612h1v29h-1zM549 613h1v28h-1zM557 615h1v26h-1zM565 616h1v25h-1zM573 617h1v24h-1zM581 618h1v23h-1zM589 618h1v23h-1zM597 619h1v22h-1zM605 621h1v20h-1zM613 623h1v18h-1zM621 624h1v17h-1zM629 631h1v10h-1zM637 638h1v3h-1zM645 640h1v4h-1zM653 640h1v7h-1zM661 640h1v11h-1zM669 640h1v11h-1zM677 640h1v13h-1zM685 640h1v15h-1zM693 640h1v15h-1zM701 640h1v16h-1zM709 640h1v16h-1zM717 640h1v13h-1zM725 640h1v11h-1zM733 640h1v10h-1zM741 640h1v10h-1zM749 640h1v9h-1zM757 640h1v8h-1zM765 640h1v6h-1zM773 640h1v4h-1zM781 637h1v4h-1zM789 634h1v7h-1zM797 631h1v10h-1zM805 630h1v11h-1zM813 628h1v13h-1zM821 631h1v10h-1zM829 632h1v9h-1zM837 635h1v6h-1zM845 636h1v5h-1zM853 637h1v4h-1zM861 636h1v5h-1zM869 635h1v6h-1zM877 632h1v9h-1zM885 631h1v10h-1zM893 630h1v11h-1zM901 628h1v13h-1zM909 627h1v14h-1zM917 627h1v14h-1zM925 627h1v14h-1zM933 627h1v14h-1zM941 627h1v14h-1zM949 627h1v14h-1zM957 626h1v15h-1zM965 627h1v14h-1zM973 629h1v12h-1zM981 629h1v12h-1zM989 629h1v12h-1zM997 629h1v12h-1zM1005 630h1v11h-1zM1013 631h1v10h-1zM1021 632h1v9h-1zM1029 633h1v8h-1zM1037 632h1v9h-1zM1045 633h1v8h-1zM1053 634h1v7h-1zM1061 635h1v6h-1zM1069 634h1v7h-1zM1077 634h1v7h-1zM1085 633h1v8h-1zM1093 633h1v8h-1zM1101 634h1v7h-1zM1109 633h1v8h-1zM1117 633h1v8h-1zM1125 633h1v8h-1zM1133 632h1v9h-1zM1141 630h1v11h-1zM1149 629h1v12h-1zM1157 628h1v13h-1zM1165 626h1v15h-1zM1173 625h1v16h-1zM1181 623h1v18h-1zM1189 621h1v20h-1zM1197 619h1v22h-1zM1205 614h1v27h-1zM1213 610h1v31h-1zM1221 607h1v34h-1zM1229 603h1v38h-1zM1237 601h1v40h-1zM1245 598h1v43h-1zM1253 594h1v47h-1zM1261 591h1v50h-1zM1269 589h1v52h-1zM1277 588h1v53h-1zM1285 589h1v52h-1zM1293 590h1v51h-1zM1301 591h1v50h-1zM1309 591h1v50h-1zM1317 592h1v49h-1zM1325 592h1v49h-1zM1333 593h1v48h-1zM1341 596h1v45h-1zM1349 598h1v43h-1zM1357 598h1v43h-1zM1365 600h1v41h-1zM1373 598h1v43h-1zM1381 596h1v45h-1zM1389 596h1v45h-1zM1397 597h1v44h-1zM1405 598h1v43h-1zM1413 601h1v40h-1zM1421 604h1v37h-1zM1429 605h1v36h-1zM1437 607h1v34h-1zM1445 608h1v33h-1zM1453 605h1v36h-1zM1461 605h1v36h-1zM1469 604h1v37h-1zM1477 598h1v43h-1zM1485 592h1v49h-1zM1493 585h1v56h-1zM1501 581h1v60h-1zM1509 578h1v63h-1zM1517 566h1v75h-1zM1525 554h1v87h-1zM1533 547h1v94h-1zM1541 540h1v101h-1zM1549 543h1v98h-1zM1557 546h1v95h-1zM1565 550h1v91h-1zM1573 557h1v84h-1zM1581 558h1v83h-1zM1589 560h1v81h-1zM1597 563h1v78h-1zM1605 564h1v77h-1zM1613 554h1v87h-1zM1621 550h1v91h-1zM1629 549h1v92h-1zM1637 554h1v87h-1zM1645 561h1v80h-1zM1653 578h1v63h-1zM1661 590h1v51h-1z"/><polyline fill="none" stroke="#ff0000" stroke-width="1" stroke-dasharray="3 3" points="5,637.5 7,637.1 9,636.7 11,636.4 13,636.0 15,635.6 17,635.2 19,634.8 21,634.5 23,634.1 25,633.7 27,633.2 29,632.8 31,632.3 33,631.9 35,631.4 37,630.9 39,630.6 41,630.4 43,630.3 45,630.1 47,629.9 49,629.8 51,629.6 53,629.4 55,629.3 57,629.1 59,628.9 61,628.8 63,628.6 65,628.6 67,628.5 69,628.5 71,628.4 73,628.4 75,628.3 77,628.3 79,628.2 81,628.2 83,628.1 85,628.2 87,628.3 89,628.4 91,628.6 93,628.7 95,628.8 97,628.9 99,629.1 101,629.2 103,629.3 105,629.6 107,630.1 109,630.6 111,631.1 113,631.5 115,632.0 117,632.5 119,633.0 121,633.5 123,633.9 125,634.3 127,634.7 129,635.0 131,635.4 133,635.8 135,636.2 137,636.5 139,636.9 141,637.3 143,637.7 145,638.0 147,638.4 149,638.7 151,639.1 153,639.5 155,639.8 157,640.2 159,640.5 161,640.9 163,641.2 165,641.6 167,642.1 169,642.6 171,643.1 173,643.5 175,644.0 177,644.5 179,645.0 181,645.5 183,646.0 185,646.5 187,646.9 189,647.4 191,647.9 193,648.4 195,648.9 197,649.3 199,649.8 201,650.3 203,650.8 205,651.3 207,651.7 209,652.2 211,652.6 213,653.1 215,653.5 217,654.0 219,654.5 221,654.9 223,655.4 225,655.8 227,656.3 229,656.8 231,657.2 233,657.7 235,658.1 237,658.6 239,659.1 241,659.5 243,660.0 245,660.2 247,660.2 249,660.2 251,660.2 253,660.2 255,660.2 257,660.2 259,660.2 261,660.2 263,660.2 265,660.2 267,660.2 269,660.0 271,659.7 273,659.5 275,659.3 277,659.0 279,658.8 281,658.6 283,658.4 285,658.1 287,657.9 289,657.7 291,657.4 293,657.2 295,656.9 297,656.7 299,656.5 301,656.2 303,656.0 305,655.8 307,655.5 309,655.3 311,655.0 313,654.8 315,654.7 317,654.7 319,654.6 321,654.5 323,654.5 325,654.4 327,654.4 329,654.3 331,654.2 333,654.2 335,654.1 337,654.0 339,654.0 341,653.9 343,653.8 345,653.7 347,653.7 349,653.6 351,653.5 353,653.5 355,653.4 357,653.3 359,653.2 361,653.2 363,653.1 365,653.0 367,652.9 369,652.6 371,652.4 373,652.1 375,651.9 377,651.6 379,651.4 381,651.1 383,650.9 385,650.6 387,650.4 389,650.1 391,649.8 393,649.6 395,649.3 397,649.0 399,648.8 401,648.5 403,648.2 405,648.0 407,647.7 409,647.4 411,647.1 413,646.8 415,646.5 417,646.2 419,645.9 421,645.6 423,645.3 425,645.0 427,644.7 429,644.4 431,644.1 433,643.8 435,643.5 437,643.0 439,642.4 441,641.9 443,641.3 445,640.8 447,640.6 449,640.4 451,640.2 453,640.0 455,639.8 457,639.6 459,639.4 461,639.2 463,639.0 465,638.7 467,638.5 469,638.2 471,637.9 473,637.6 475,637.4 477,637.1 479,636.8 481,636.6 483,636.3 485,635.6 487,635.0 489,634.3 491,633.7 493,633.0 495,632.4 497,631.7 499,631.0 501,630.4 503,629.7 505,628.9 507,628.0 509,627.1 511,626.2 513,625.3 515,624.3 517,623.4 519,622.5 521,621.8 523,621.1 525,620.4 527,619.7 529,619.0 531,618.3 533,617.6 535,616.9 537,616.2 539,615.7 541,615.2 543,614.7 545,614.2 547,613.7 549,613.2 551,612.7 553,612.4 555,612.3 557,612.2 559,612.1 561,612.0 563,611.9 565,611.8 567,611.7 569,611.6 571,611.7 573,611.9 575,612.0 577,612.2 579,612.4 581,612.6 583,612.7 585,612.9 587,613.1 589,613.3 591,613.4 593,613.6 595,613.9 597,614.1 599,614.4 601,614.6 603,614.9 605,615.1 607,615.4 609,615.7 611,615.9 613,616.2 615,616.4 617,616.7 619,616.9 621,617.2 623,617.8 625,618.4 627,619.0 629,619.7 631,620.3 633,620.9 635,621.5 637,622.2 639,623.1 641,623.9 643,624.8 645,625.6 647,626.4 649,627.3 651,628.1 653,629.0 655,629.8 657,630.6 659,631.4 661,632.2 663,633.0 665,633.9 667,634.7 669,635.5 671,636.3 673,637.1 675,638.0 677,639.0 679,639.9 681,640.9 683,641.9 685,642.8 687,643.8 689,644.8 691,645.7 693,646.7 695,647.5 697,648.0 699,648.5 701,649.0 703,649.5 705,650.0 707,650.5 709,651.0 711,651.5 713,651.9 715,652.0 717,652.2 719,652.4 721,652.5 723,652.7 725,652.8 727,653.0 729,652.9 731,652.9 733,652.8 735,652.8 737,652.7 739,652.6 741,652.6 743,652.5 745,652.5 747,652.4 749,652.3 751,652.2 753,652.0 755,651.8 757,651.6 759,651.4 761,651.2 763,651.0 765,650.8 767,650.6 769,650.4 771,650.2 773,649.7 775,649.3 777,648.8 779,648.3 781,647.9 783,647.4 785,646.9 787,646.4 789,645.7 791,645.1 793,644.4 795,643.8 797,643.1 799,642.4 801,641.8 803,641.1 805,640.5 807,640.0 809,639.5 811,639.0 813,638.5 815,638.0 817,637.5 819,637.0 821,636.5 823,636.2 825,635.8 827,635.5 829,635.2 831,634.8 833,634.5 835,634.2 837,633.9 839,633.5 841,633.2 843,632.9 845,632.7 847,632.7 849,632.7 851,632.7 853,632.7 855,632.7 857,632.7 859,632.7 861,632.7 863,632.7 865,632.7 867,632.7 869,632.8 871,632.8 873,632.8 875,632.9 877,632.9 879,633.0 881,633.0 883,633.0 885,633.1 887,633.1 889,633.1 891,633.2 893,633.2 895,633.0 897,632.8 899,632.5 901,632.3 903,632.1 905,631.9 907,631.6 909,631.4 911,631.2 913,631.0 915,630.7 917,630.5 919,630.2 921,630.0 923,629.7 925,629.5 927,629.2 929,629.0 931,628.7 933,628.5 935,628.2 937,628.0 939,627.9 941,627.8 943,627.7 945,627.6 947,627.5 949,627.4 951,627.2 953,627.1 955,627.0 957,626.9 959,626.8 961,626.7 963,626.6 965,626.6 967,626.6 969,626.6 971,626.6 973,626.6 975,626.6 977,626.6 979,626.6 981,626.6 983,626.6 985,626.7 987,626.8 989,626.9 991,627.0 993,627.1 995,627.2 997,627.2 999,627.3 1001,627.4 1003,627.5 1005,627.6 1007,627.7 1009,627.8 1011,627.9 1013,628.0 1015,628.1 1017,628.3 1019,628.4 1021,628.6 1023,628.7 1025,628.9 1027,629.1 1029,629.2 1031,629.4 1033,629.5 1035,629.7 1037,629.8 1039,630.0 1041,630.1 1043,630.2 1045,630.3 1047,630.4 1049,630.5 1051,630.6 1053,630.7 1055,630.8 1057,630.9 1059,631.0 1061,631.2 1063,631.3 1065,631.4 1067,631.5 1069,631.6 1071,631.7 1073,631.8 1075,631.9 1077,632.0 1079,632.1 1081,632.3 1083,632.4 1085,632.5 1087,632.6 1089,632.7 1091,632.7 1093,632.7 1095,632.7 1097,632.7 1099,632.7 1101,632.7 1103,632.7 1105,632.7 1107,632.7 1109,632.7 1111,632.7 1113,632.7 1115,632.7 1117,632.7 1119,632.7 1121,632.7 1123,632.7 1125,632.7 1127,632.7 1129,632.6 1131,632.5 1133,632.5 1135,632.4 1137,632.3 1139,632.2 1141,632.1 1143,632.1 1145,632.0 1147,631.9 1149,631.8 1151,631.7 1153,631.6 1155,631.4 1157,631.1 1159,630.9 1161,630.7 1163,630.5 1165,630.2 1167,630.0 1169,629.8 1171,629.6 1173,629.3 1175,629.1 1177,628.7 1179,628.3 1181,627.9 1183,627.5 1185,627.1 1187,626.7 1189,626.3 1191,625.9 1193,625.6 1195,625.3 1197,625.0 1199,624.6 1201,624.3 1203,624.0 1205,623.7 1207,623.2 1209,622.6 1211,622.1 1213,621.5 1215,620.9 1217,620.3 1219,619.8 1221,619.2 1223,618.4 1225,617.7 1227,616.9 1229,616.1 1231,615.3 1233,614.6 1235,613.8 1237,613.0 1239,612.2 1241,611.4 1243,610.6 1245,609.9 1247,609.1 1249,608.3 1251,607.5 1253,606.6 1255,605.8 1257,605.0 1259,604.1 1261,603.2 1263,602.4 1265,601.6 1267,600.7 1269,600.1 1271,599.5 1273,598.9 1275,598.2 1277,597.6 1279,597.0 1281,596.4 1283,595.8 1285,595.3 1287,594.8 1289,594.3 1291,593.8 1293,593.3 1295,592.8 1297,592.5 1299,592.1 1301,591.7 1303,591.4 1305,591.1 1307,591.0 1309,590.8 1311,590.7 1313,590.5 1315,590.4 1317,590.2 1319,590.1 1321,589.9 1323,589.8 1325,589.6 1327,589.7 1329,589.8 1331,590.0 1333,590.1 1335,590.2 1337,590.3 1339,590.4 1341,590.6 1343,590.7 1345,590.8 1347,591.0 1349,591.3 1351,591.5 1353,591.8 1355,592.0 1357,592.3 1359,592.5 1361,592.7 1363,593.0 1365,593.2 1367,593.4 1369,593.6 1371,593.8 1373,594.0 1375,594.2 1377,594.4 1379,594.6 1381,594.8 1383,595.0 1385,595.2 1387,595.4 1389,595.5 1391,595.7 1393,595.8 1395,596.0 1397,596.1 1399,596.2 1401,596.4 1403,596.5 1405,596.7 1407,596.8 1409,596.9 1411,597.1 1413,597.2 1415,597.4 1417,597.6 1419,597.7 1421,597.9 1423,598.1 1425,598.2 1427,598.4 1429,598.6 1431,598.7 1433,598.9 1435,599.2 1437,599.5 1439,599.7 1441,600.0 1443,600.3 1445,600.6 1447,600.8 1449,601.1 1451,601.4 1453,601.7 1455,602.0 1457,602.2 1459,602.3 1461,602.5 1463,602.7 1465,602.8 1467,603.0 1469,603.2 1471,603.3 1473,603.5 1475,603.2 1477,602.9 1479,602.6 1481,602.3 1483,602.0 1485,601.7 1487,601.5 1489,601.2 1491,600.9 1493,600.6 1495,600.1 1497,599.3 1499,598.6 1501,597.8 1503,597.1 1505,596.4 1507,595.7 1509,594.6 1511,593.1 1513,591.7 1515,590.2 1517,588.8 1519,587.8 1521,586.9 1523,585.9 1525,584.6 1527,583.0 1529,581.4 1531,579.8 1533,578.2 1535,576.6 1537,575.0 1539,572.8 1541,570.6 1543,568.8 1545,567.4 1547,566.1 1549,564.7 1551,563.3 1553,561.9 1555,560.5 1557,559.4 1559,558.3 1561,557.4 1563,556.5 1565,555.7 1567,554.8 1569,553.9 1571,553.0 1573,552.3 1575,551.9 1577,551.5 1579,551.1 1581,550.7 1583,550.3 1585,549.9 1587,549.6 1589,549.3 1591,549.3 1593,549.6 1595,549.9 1597,550.2 1599,550.7 1601,551.1 1603,551.6 1605,552.2 1607,552.8 1609,553.4 1611,553.9 1613,554.4 1615,554.7 1617,554.9 1619,555.2 1621,555.4 1623,555.4 1625,555.4 1627,555.4 1629,555.4 1631,555.4 1633,555.5 1635,555.8 1637,556.1 1639,556.4 1641,556.6 1643,556.7 1645,556.9 1647,557.1 1649,557.2 1651,557.4 1653,558.2 1655,559.1 1657,560.0 1659,560.5"/><path stroke="#c0c0c0" stroke-width="1" stroke-dasharray="3 3" fill="none" d="M5 703.5H1685M5 743.5H1685"/><polyline fill="none" stroke="#1e90ff" stroke-width="1" points="5,716.5 13,716.5 21,714.4 29,714.4 37,710.1 45,717.2 53,724.6 61,721.0 69,717.2 77,721.0 85,722.3 93,725.4 101,725.4 109,731.7 117,730.5 125,731.7 133,727.4 141,719.8 149,729.2 157,731.2 165,734.3 173,732.5 181,735.5 189,737.6 197,736.3 205,739.4 213,740.6 221,739.4 229,737.6 237,731.7 245,730.5 253,724.1 261,725.9 269,727.9 277,730.5 285,729.7 293,735.0 301,736.8 309,730.5 317,731.7 325,730.5 333,731.7 341,732.5 349,731.7 357,731.2 365,727.2 373,724.1 381,728.4 389,716.0 397,711.9 405,716.5 413,724.1 421,724.6 429,724.1 437,715.2 445,717.2 453,717.2 461,719.5 469,716.5 477,705.6 485,696.9 493,698.2 501,703.3 509,700.7 517,696.9 525,711.9 533,716.0 541,715.2 549,713.2 557,713.2 565,716.5 573,715.2 581,713.2 589,713.2 597,714.4 605,714.4 613,720.3 621,716.5 629,736.1 637,738.1 645,738.1 653,738.1 661,734.3 669,730.5 677,733.5 685,735.0 693,733.0 701,734.3 709,730.5 717,722.3 725,725.4 733,724.1 741,727.2 749,727.2 757,724.6 765,721.6 773,716.5 781,705.8 789,712.2 797,710.1 805,714.4 813,713.2 821,726.1 829,722.3 837,728.4 845,724.1 853,722.3 861,719.5 869,718.3 877,712.2 885,717.2 893,716.5 901,713.2 909,713.9 917,717.2 925,716.0 933,717.2 941,716.5 949,715.2 957,712.2 965,719.5 973,719.5 981,719.5 989,717.2 997,715.2 1005,717.2 1013,720.3 1021,721.6 1029,720.3 1037,716.0 1045,720.3 1053,724.6 1061,720.3 1069,713.2 1077,716.5 1085,716.5 1093,717.2 1101,719.5 1109,715.2 1117,719.5 1125,717.2 1133,712.7 1141,707.6 1149,708.3 1157,707.6 1165,704.3 1173,705.0 1181,699.2 1189,698.2 1197,698.2 1205,690.6 1213,689.3 1221,689.3 1229,687.3 1237,688.5 1245,687.3 1253,683.9 1261,691.1 1269,690.3 1277,689.3 1285,701.2 1293,699.2 1301,698.2 1309,697.4 1317,696.1 1325,695.4 1333,698.2 1341,706.3 1349,703.3 1357,701.2 1365,703.3 1373,696.7 1381,695.4 1389,700.0 1397,700.5 1405,705.0 1413,711.4 1421,710.1 1429,707.6 1437,710.6 1445,706.3 1453,699.5 1461,705.0 1469,703.0 1477,696.7 1485,693.1 1493,691.1 1501,692.3 1509,694.1 1517,686.5 1525,685.2 1533,690.3 1541,689.3 1549,705.0 1557,705.0 1565,706.8 1573,711.4 1581,705.6 1589,708.3 1597,707.6 1605,706.3 1613,696.1 1621,700.0 1629,702.5 1637,711.9 1645,715.7 1653,727.2 1661,726.1"/><path fill="#000" d="M1686 64h2v1h-2zM1686 97h2v1h-2zM1686 130h2v1h-2zM1686 196h2v1h-2zM1686 229h2v1h-2zM1686 262h2v1h-2zM1686 295h2v1h-2zM1686 328h2v1h-2zM1686 361h2v1h-2zM1686 394h2v1h-2zM1686 427h2v1h-2zM1686 460h2v1h-2zM1686 493h2v1h-2zM1686 526h2v1h-2zM1686 640h2v1h-2zM1686 703h2v1h-2zM1686 743h2v1h-2zM5 774h1v3h-1zM69 774h1v3h-1zM133 774h1v3h-1zM197 774h1v3h-1zM261 774h1v3h-1zM325 774h1v3h-1zM389 774h1v3h-1zM453 774h1v3h-1zM517 774h1v3h-1zM581 774h1v3h-1zM645 774h1v3h-1zM709 774h1v3h-1zM773 774h1v3h-1zM837 774h1v3h-1zM901 774h1v3h-1zM965 774h1v3h-1zM1029 774h1v3h-1zM1093 774h1v3h-1zM1157 774h1v3h-1zM1221 774h1v3h-1zM1285 774h1v3h-1zM1349 774h1v3h-1zM1413 774h1v3h-1zM1477 774h1v3h-1zM1541 774h1v3h-1zM1605 774h1v3h-1z"/><g font-family="Liberation Sans, sans-serif" font-size="9.8" fill="#000" stroke="#000" stroke-width="0.22" shape-rendering="auto" text-rendering="geometricPrecision"><path fill="#000" stroke="none" d="M8 43h7l-3.500 4z"/><text x="19.6" y="48" textLength="204.99" lengthAdjust="spacingAndGlyphs">XAUUSD-,H4&#160; 1554.08 1561.94 1553.08 1555.47</text><text x="9" y="544" textLength="123.15" lengthAdjust="spacingAndGlyphs">MACD(12,26,9) 8.145 12.589</text><text x="9" y="685" textLength="68.31" lengthAdjust="spacingAndGlyphs">RSI(14) 47.1260</text><text x="4" y="786" textLength="54.18" lengthAdjust="spacingAndGlyphs">19 Nov 2019</text><text x="68" y="786" textLength="56.84" lengthAdjust="spacingAndGlyphs">20 Nov 20:00</text><text x="132" y="786" textLength="56.84" lengthAdjust="spacingAndGlyphs">22 Nov 04:00</text><text x="196" y="786" textLength="56.84" lengthAdjust="spacingAndGlyphs">25 Nov 12:00</text><text x="260" y="786" textLength="56.84" lengthAdjust="spacingAndGlyphs">26 Nov 20:00</text><text x="324" y="786" textLength="56.84" lengthAdjust="spacingAndGlyphs">28 Nov 04:00</text><text x="388" y="786" textLength="56.84" lengthAdjust="spacingAndGlyphs">29 Nov 12:00</text><text x="452" y="786" textLength="50.62" lengthAdjust="spacingAndGlyphs">2 Dec 20:00</text><text x="516" y="786" textLength="50.62" lengthAdjust="spacingAndGlyphs">4 Dec 04:00</text><text x="580" y="786" textLength="50.62" lengthAdjust="spacingAndGlyphs">5 Dec 12:00</text><text x="644" y="786" textLength="50.62" lengthAdjust="spacingAndGlyphs">8 Dec 23:00</text><text x="708" y="786" textLength="55.84" lengthAdjust="spacingAndGlyphs">10 Dec 04:00</text><text x="772" y="786" textLength="55.15" lengthAdjust="spacingAndGlyphs">11 Dec 12:00</text><text x="836" y="786" textLength="55.84" lengthAdjust="spacingAndGlyphs">12 Dec 20:00</text><text x="900" y="786" textLength="55.84" lengthAdjust="spacingAndGlyphs">16 Dec 04:00</text><text x="964" y="786" textLength="55.84" lengthAdjust="spacingAndGlyphs">17 Dec 12:00</text><text x="1028" y="786" textLength="55.84" lengthAdjust="spacingAndGlyphs">18 Dec 20:00</text><text x="1092" y="786" textLength="55.84" lengthAdjust="spacingAndGlyphs">20 Dec 04:00</text><text x="1156" y="786" textLength="55.84" lengthAdjust="spacingAndGlyphs">23 Dec 12:00</text><text x="1220" y="786" textLength="55.84" lengthAdjust="spacingAndGlyphs">25 Dec 23:00</text><text x="1284" y="786" textLength="55.84" lengthAdjust="spacingAndGlyphs">27 Dec 04:00</text><text x="1348" y="786" textLength="55.84" lengthAdjust="spacingAndGlyphs">30 Dec 12:00</text><text x="1412" y="786" textLength="55.84" lengthAdjust="spacingAndGlyphs">31 Dec 20:00</text><text x="1476" y="786" textLength="47.89" lengthAdjust="spacingAndGlyphs">3 Jan 00:00</text><text x="1540" y="786" textLength="47.89" lengthAdjust="spacingAndGlyphs">6 Jan 08:00</text><text x="1604" y="786" textLength="47.89" lengthAdjust="spacingAndGlyphs">7 Jan 16:00</text><text x="1691.3" y="68" textLength="32.41" lengthAdjust="spacingAndGlyphs">1610.05</text><text x="1691.3" y="101" textLength="32.41" lengthAdjust="spacingAndGlyphs">1598.50</text><text x="1691.3" y="134" textLength="32.41" lengthAdjust="spacingAndGlyphs">1586.60</text><text x="1691.3" y="200" textLength="32.41" lengthAdjust="spacingAndGlyphs">1563.50</text><text x="1691.3" y="233" textLength="32.41" lengthAdjust="spacingAndGlyphs">1551.60</text><text x="1691.3" y="266" textLength="32.41" lengthAdjust="spacingAndGlyphs">1540.05</text><text x="1691.3" y="299" textLength="32.41" lengthAdjust="spacingAndGlyphs">1528.50</text><text x="1691.3" y="332" textLength="32.41" lengthAdjust="spacingAndGlyphs">1516.60</text><text x="1691.3" y="365" textLength="32.41" lengthAdjust="spacingAndGlyphs">1505.05</text><text x="1691.3" y="398" textLength="32.41" lengthAdjust="spacingAndGlyphs">1493.50</text><text x="1691.3" y="431" textLength="32.41" lengthAdjust="spacingAndGlyphs">1481.60</text><text x="1691.3" y="464" textLength="32.41" lengthAdjust="spacingAndGlyphs">1470.05</text><text x="1691.3" y="497" textLength="32.41" lengthAdjust="spacingAndGlyphs">1458.50</text><text x="1691.3" y="530" textLength="32.41" lengthAdjust="spacingAndGlyphs">1446.95</text><rect x="1687" y="157" width="41" height="11" fill="#ff0000" stroke="none" shape-rendering="crispEdges"/><rect x="1687" y="213" width="41" height="11" fill="#000" stroke="none" shape-rendering="crispEdges"/><rect x="1687" y="284" width="41" height="11" fill="#00ff7f" stroke="none" shape-rendering="crispEdges"/><rect x="1687" y="369" width="41" height="11" fill="#4169e1" stroke="none" shape-rendering="crispEdges"/><rect x="1687" y="440" width="41" height="11" fill="#4169e1" stroke="none" shape-rendering="crispEdges"/><rect x="1687" y="511" width="41" height="11" fill="#4169e1" stroke="none" shape-rendering="crispEdges"/><text x="1691.3" y="166" textLength="32.41" lengthAdjust="spacingAndGlyphs" fill="#fff" stroke="#fff">1575.00</text><text x="1691.3" y="222" textLength="32.41" lengthAdjust="spacingAndGlyphs" fill="#fff" stroke="#fff">1555.47</text><text x="1691.3" y="293" textLength="32.41" lengthAdjust="spacingAndGlyphs" fill="#fff" stroke="#fff">1530.00</text><text x="1691.3" y="378" textLength="32.41" lengthAdjust="spacingAndGlyphs" fill="#fff" stroke="#fff">1500.00</text><text x="1691.3" y="449" textLength="32.41" lengthAdjust="spacingAndGlyphs" fill="#fff" stroke="#fff">1475.00</text><text x="1691.3" y="520" textLength="32.41" lengthAdjust="spacingAndGlyphs" fill="#fff" stroke="#fff">1450.00</text><text x="1689.5" y="541.5" textLength="27.42" lengthAdjust="spacingAndGlyphs">17.302</text><text x="1689.5" y="644" textLength="17.45" lengthAdjust="spacingAndGlyphs">0.00</text><text x="1689.5" y="667" textLength="25.42" lengthAdjust="spacingAndGlyphs">-4.837</text><text x="1689.5" y="683" textLength="14.96" lengthAdjust="spacingAndGlyphs">100</text><text x="1689.5" y="707" textLength="9.97" lengthAdjust="spacingAndGlyphs">70</text><text x="1689.5" y="747" textLength="9.97" lengthAdjust="spacingAndGlyphs">30</text><text x="1689.5" y="770" textLength="4.99" lengthAdjust="spacingAndGlyphs">0</text></g><text x="779" y="263" font-family="Liberation Sans, Noto Sans CJK SC, sans-serif" font-size="32.5" font-weight="350" fill="#ff1010" shape-rendering="auto">多空转折点<tspan x="940" dy="-0.7" font-size="36" textLength="76.8" lengthAdjust="spacingAndGlyphs">1530</tspan></text></svg>
<svg id="tb" width="1731" height="36" viewBox="0 0 1731 36" shape-rendering="crispEdges"><rect x="0" y="0" width="1731" height="32" fill="#f0f0f0"/><rect x="0" y="5" width="655" height="1" fill="#a0a0a0"/><rect x="0" y="6" width="654" height="1" fill="#fbfbfb"/><rect x="654" y="0" width="1" height="6" fill="#a0a0a0"/><rect x="0" y="0" width="16" height="2" fill="#ffffff"/><rect x="37" y="0" width="4" height="3" fill="#e0a020"/><rect x="49" y="0" width="1" height="3" fill="#909090"/><rect x="68" y="0" width="4" height="3" fill="#00b000"/><rect x="133" y="0" width="3" height="1" fill="#a05010"/><rect x="157" y="0" width="12" height="1" fill="#3050a0"/><rect x="191" y="0" width="3" height="1" fill="#20a020"/><rect x="217" y="0" width="7" height="1" fill="#d06020"/><rect x="287" y="0" width="1" height="5" fill="#a0a0a0"/><rect x="290" y="1" width="3" height="1" fill="#606060"/><rect x="303" y="0" width="12" height="1" fill="#d0d0d0"/><rect x="325" y="0" width="26" height="2" fill="#fafafa"/><rect x="356" y="0" width="14" height="1" fill="#d0d0d0"/><rect x="381" y="0" width="1" height="3" fill="#909090"/><rect x="403" y="0" width="2" height="1" fill="#e09020"/><rect x="431" y="0" width="2" height="1" fill="#e09020"/><rect x="446" y="0" width="8" height="1" fill="#2060d0"/><rect x="454" y="0" width="8" height="1" fill="#30a030"/><rect x="471" y="0" width="1" height="3" fill="#909090"/><rect x="477" y="0" width="24" height="3" fill="#fafafa"/><rect x="512" y="0" width="13" height="1" fill="#c8c8c8"/><rect x="533" y="0" width="1" height="3" fill="#909090"/><rect x="551" y="0" width="4" height="3" fill="#00b000"/><rect x="586" y="0" width="6" height="1" fill="#203870"/><rect x="622" y="0" width="14" height="1" fill="#b8b8b8"/><rect x="0" y="31" width="1731" height="1" fill="#e3e3e3"/><rect x="0" y="32" width="1731" height="1" fill="#a0a0a0"/><rect x="0" y="33" width="1731" height="1" fill="#696969"/><rect x="2" y="34" width="1731" height="2" fill="#fff"/><path fill="#505050" d="M1 13h1v1h-1zM3 13h1v1h-1zM5 13h1v1h-1zM7 13h1v1h-1zM9 13h1v1h-1zM11 13h1v1h-1zM13 13h1v1h-1zM1 16h1v1h-1zM3 16h1v1h-1zM5 16h1v1h-1zM7 16h1v1h-1zM9 16h1v1h-1zM11 16h1v1h-1zM13 16h1v1h-1zM1 20h1v1h-1zM3 20h1v1h-1zM5 20h1v1h-1zM7 20h1v1h-1zM9 20h1v1h-1zM11 20h1v1h-1zM13 20h1v1h-1zM1 24h1v1h-1zM3 24h1v1h-1zM5 24h1v1h-1zM7 24h1v1h-1zM9 24h1v1h-1z"/><path fill="#505050" d="M11 24h4v1h-3v1h2v1h-2v2h-1z"/><path fill="#505050" d="M59 14h1v1h-1zM59 26h1v1h-1zM61 14h1v1h-1zM61 26h1v1h-1zM63 14h1v1h-1zM63 26h1v1h-1zM65 14h1v1h-1zM65 26h1v1h-1zM67 14h1v1h-1zM67 26h1v1h-1zM69 14h1v1h-1zM69 26h1v1h-1zM58 15h1v1h-1zM70 15h1v1h-1zM58 17h1v1h-1zM70 17h1v1h-1zM58 19h1v1h-1zM70 19h1v1h-1zM58 21h1v1h-1zM70 21h1v1h-1zM58 23h1v1h-1zM70 23h1v1h-1zM58 25h1v1h-1zM70 25h1v1h-1zM57 13h2v1h-2zM60 17h8v2h-3v6h-2v-6h-3z"/><path fill="#505050" shape-rendering="auto" d="M88.500 14l3.500 3.500l-3.500 2.500l-3.500-2.500zM95.500 22l3.800 3l-3.800 3.500l-3.800-3.500zM87.500 21.500l1.800 2l4-5.500l1 0.800l-4.800 6.700l-2.800-3z"/><path fill="#202020" d="M106 19h6l-3 3z" shape-rendering="auto"/><rect x="117" y="7" width="1" height="25" fill="#a0a0a0"/><rect x="118" y="7" width="1" height="25" fill="#fdfdfd"/><path fill="#b0b0b0" d="M121 10h3v1h-3zM121 12h3v1h-3zM121 14h3v1h-3zM121 16h3v1h-3zM121 18h3v1h-3zM121 20h3v1h-3zM121 22h3v1h-3zM121 24h3v1h-3zM121 26h3v1h-3zM121 28h3v1h-3z"/><rect x="378" y="7" width="1" height="25" fill="#a0a0a0"/><rect x="379" y="7" width="1" height="25" fill="#fdfdfd"/><rect x="267" y="8" width="25" height="22" fill="#f8f8f8"/><rect x="267" y="8" width="25" height="1" fill="#a0a0a0"/><rect x="267" y="8" width="1" height="22" fill="#a0a0a0"/><rect x="291" y="9" width="1" height="21" fill="#fff"/><rect x="268" y="29" width="24" height="1" fill="#fff"/><g font-family="Liberation Sans, sans-serif" font-size="10.2" fill="#404040" shape-rendering="auto" text-anchor="middle"><text x="139" y="24" textLength="13.18" lengthAdjust="spacingAndGlyphs">M1</text><text x="167" y="24" textLength="13.18" lengthAdjust="spacingAndGlyphs">M5</text><text x="195.5" y="24" textLength="18.45" lengthAdjust="spacingAndGlyphs">M15</text><text x="223.5" y="24" textLength="18.45" lengthAdjust="spacingAndGlyphs">M30</text><text x="251.5" y="24" textLength="12.13" lengthAdjust="spacingAndGlyphs">H1</text><text x="279" y="24" textLength="12.13" lengthAdjust="spacingAndGlyphs">H4</text><text x="307.5" y="24" textLength="12.13" lengthAdjust="spacingAndGlyphs">D1</text><text x="336" y="24" textLength="14.23" lengthAdjust="spacingAndGlyphs">W1</text><text x="363.5" y="24" textLength="14.75" lengthAdjust="spacingAndGlyphs">MN</text></g><text x="35.7" y="25" font-family="Liberation Sans, sans-serif" font-size="13" fill="#505050" stroke="#505050" stroke-width="0.5" text-anchor="middle" shape-rendering="auto">A</text></svg>
<div id="lb"></div><div id="lb2"></div><div id="bl"></div><div id="bk1"></div><div id="bk2"></div>
</body></html>
